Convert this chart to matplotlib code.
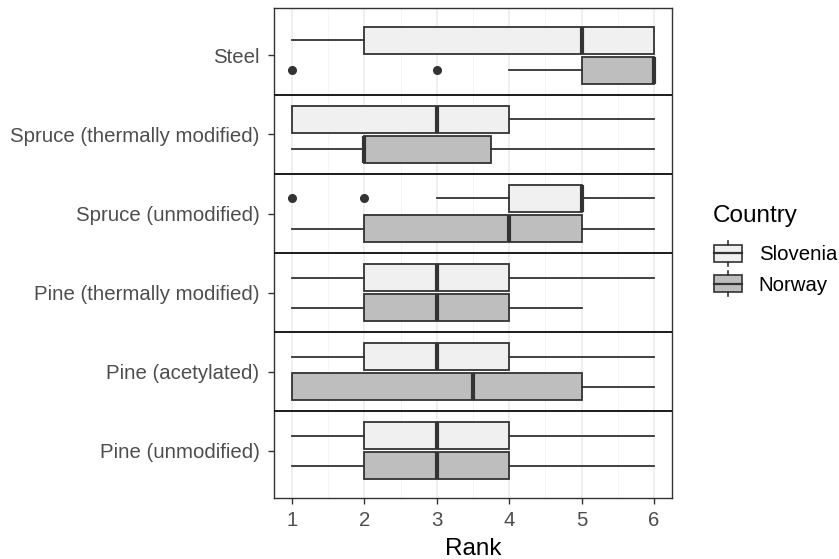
"""Rank boxplots by material and country, styled after ggplot2 theme_bw."""

import matplotlib

matplotlib.use("Agg")
import matplotlib.pyplot as plt
from matplotlib.legend_handler import HandlerBase
from matplotlib.lines import Line2D
from matplotlib.patches import Patch, Rectangle

plt.rcParams["font.family"] = ["Liberation Sans", "DejaVu Sans"]

# bottom to top, as drawn on the y axis
MATERIALS = [
    "Pine (unmodified)",
    "Pine (acetylated)",
    "Pine (thermally modified)",
    "Spruce (unmodified)",
    "Spruce (thermally modified)",
    "Steel",
]
COUNTRIES = ["Slovenia", "Norway"]

# five-number summaries: whislo, q1, med, q3, whishi
SLOVENIA_STATS = [
    (1, 2, 3, 4, 6),
    (1, 2, 3, 4, 6),
    (1, 2, 3, 4, 6),
    (3, 4, 5, 5, 6),
    (1, 1, 3, 4, 6),
    (1, 2, 5, 6, 6),
]
NORWAY_STATS = [
    (1, 2, 3, 4, 6),
    (1, 1, 3.5, 5, 6),
    (1, 2, 3, 4, 5),
    (1, 2, 4, 5, 6),
    (1, 2, 2, 3.75, 6),
    (4, 5, 6, 6, 6),
]
SLOVENIA_OUTLIERS = [[], [], [], [1, 2], [], []]
NORWAY_OUTLIERS = [[], [], [], [], [], [1, 3]]

FILLS = {"Slovenia": "#f0f0f0", "Norway": "#bebebe"}
EDGE = "#333333"
BOX_H = 0.34
OFFSET = 0.19
TEXT_SIZE = 14.7
TITLE_SIZE = 17.5


def to_bxp(stats, outliers):
    out = []
    for (lo, q1, med, q3, hi), fl in zip(stats, outliers):
        out.append(dict(whislo=lo, q1=q1, med=med, q3=q3, whishi=hi, fliers=fl))
    return out


class BoxKeyHandler(HandlerBase):
    """Small vertical boxplot glyph, like a ggplot legend key."""

    def create_artists(self, legend, orig_handle, xdescent, ydescent,
                       width, height, fontsize, trans):
        fc = orig_handle.get_facecolor()
        bw = width * 0.95
        x0 = xdescent + (width - bw) / 2
        bh = height * 0.9
        y0 = -ydescent + (height - bh) / 2
        xc = x0 + bw / 2
        rect = Rectangle((x0, y0), bw, bh, facecolor=fc, edgecolor=EDGE,
                         linewidth=1.2, transform=trans)
        mid = Line2D([x0, x0 + bw], [y0 + bh / 2] * 2, color=EDGE, lw=1.6,
                     transform=trans)
        top = Line2D([xc, xc], [y0 + bh, y0 + bh + height * 0.25], color=EDGE,
                     lw=1.2, transform=trans)
        bot = Line2D([xc, xc], [y0, y0 - height * 0.25], color=EDGE, lw=1.2,
                     transform=trans)
        return [rect, mid, top, bot]


fig = plt.figure(figsize=(8.39, 5.59), dpi=100)
ax = fig.add_axes([0.3266, 0.109, 0.4744, 0.8767])

positions = list(range(1, len(MATERIALS) + 1))
groups = [
    ("Slovenia", SLOVENIA_STATS, SLOVENIA_OUTLIERS, OFFSET),
    ("Norway", NORWAY_STATS, NORWAY_OUTLIERS, -OFFSET),
]
for country, stats, outliers, off in groups:
    ax.bxp(
        to_bxp(stats, outliers),
        positions=[p + off for p in positions],
        widths=BOX_H,
        vert=False,
        patch_artist=True,
        showcaps=False,
        boxprops=dict(facecolor=FILLS[country], edgecolor=EDGE, linewidth=1.3),
        whiskerprops=dict(color=EDGE, linewidth=1.3),
        medianprops=dict(color=EDGE, linewidth=3.0, solid_capstyle="butt"),
        flierprops=dict(marker="o", markerfacecolor=EDGE, markeredgecolor=EDGE,
                        markersize=5.5),
        manage_ticks=False,
        zorder=3,
    )

for y in positions[:-1]:
    ax.axhline(y + 0.5, color="#1a1a1a", linewidth=1.4, zorder=4)

ax.set_xlim(0.75, 6.25)
ax.set_ylim(0.4, len(MATERIALS) + 0.6)
ax.set_xticks([1, 2, 3, 4, 5, 6])
ax.set_xticks([1.5, 2.5, 3.5, 4.5, 5.5], minor=True)
ax.set_yticks(positions)
ax.set_yticklabels(MATERIALS)
ax.grid(True, axis="x", which="major", color="#ebebeb", linewidth=1.1, zorder=0)
ax.grid(True, axis="x", which="minor", color="#f4f4f4", linewidth=0.6, zorder=0)
ax.set_axisbelow(True)
ax.tick_params(axis="both", which="major", length=4.5, width=1.0,
               color=EDGE, labelcolor="#4d4d4d", labelsize=TEXT_SIZE)
ax.tick_params(axis="x", which="major", pad=4.5)
ax.tick_params(axis="y", which="major", pad=6)
ax.tick_params(axis="x", which="minor", length=0)
for spine in ax.spines.values():
    spine.set_color(EDGE)
    spine.set_linewidth(1.0)
ax.set_xlabel("Rank", fontsize=TITLE_SIZE, color="black", labelpad=6)

handles = [Patch(facecolor=FILLS[c], edgecolor=EDGE, label=c) for c in COUNTRIES]
leg = fig.legend(
    handles=handles,
    labels=COUNTRIES,
    title="Country",
    loc="upper left",
    bbox_to_anchor=(0.840, 0.647),
    frameon=False,
    fontsize=TEXT_SIZE,
    title_fontsize=TITLE_SIZE,
    handler_map={Patch: BoxKeyHandler()},
    handlelength=1.45,
    handleheight=1.0,
    handletextpad=0.8,
    labelspacing=0.5,
    borderaxespad=0,
)
leg._legend_box.align = "left"
leg._legend_box.sep = 12
for t in leg.get_texts():
    t.set_color("black")

fig.savefig("out.png", dpi=100)
